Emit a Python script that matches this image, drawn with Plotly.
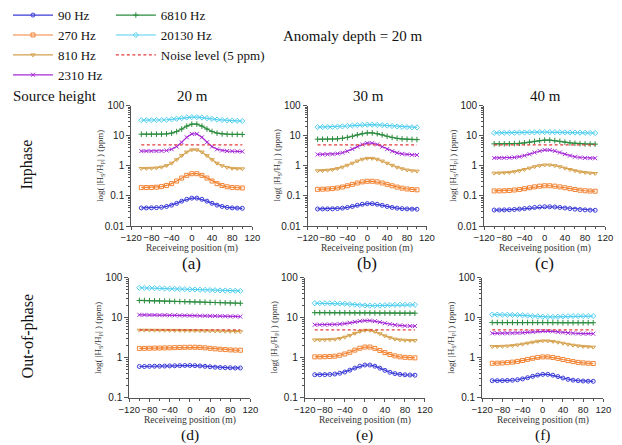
import plotly.graph_objects as go

W, H = 622, 445

# ---------------- data ----------------
positions = [-100, -90, -80, -70, -60, -50, -40, -30, -20, -10, 0, 10, 20, 30, 40, 50, 60, 70, 80, 90, 100]
freq_labels = ["90 Hz", "270 Hz", "810 Hz", "2310 Hz", "6810 Hz", "20130 Hz"]
noise_level = 5.0
panel_letters = ["(a)", "(b)", "(c)", "(d)", "(e)", "(f)"]
source_heights = ["20 m", "30 m", "40 m"]
ytick_top = [0.01, 0.1, 1, 10, 100]
ytick_top_text = ["0.01", "0.1", "1", "10", "100"]
ytick_bot = [0.1, 1, 10, 100]
ytick_bot_text = ["0.1", "1", "10", "100"]
xtick_vals = [-120, -80, -40, 0, 40, 80, 120]

# Inphase, source height 20 m  (a)
inph20_90 = [0.040, 0.040, 0.0404, 0.0409, 0.0422, 0.0449, 0.0496, 0.057, 0.0672, 0.0776, 0.0849, 0.0849, 0.0776, 0.0672, 0.057, 0.0496, 0.0449, 0.0418, 0.0402, 0.0395, 0.039]
inph20_270 = [0.190, 0.191, 0.192, 0.196, 0.205, 0.224, 0.257, 0.314, 0.395, 0.485, 0.550, 0.550, 0.485, 0.395, 0.314, 0.257, 0.222, 0.202, 0.192, 0.188, 0.185]
inph20_810 = [0.821, 0.825, 0.833, 0.856, 0.909, 1.02, 1.23, 1.61, 2.19, 2.89, 3.42, 3.42, 2.89, 2.19, 1.61, 1.23, 1.01, 0.89, 0.83, 0.81, 0.80]
inph20_2310 = [3.10, 3.10, 3.10, 3.11, 3.14, 3.25, 3.57, 4.39, 6.10, 8.90, 11.56, 11.56, 8.90, 6.10, 4.39, 3.57, 3.25, 3.12, 3.07, 3.03, 3.00]
inph20_6810 = [11.3, 11.3, 11.3, 11.32, 11.38, 11.62, 12.28, 13.87, 16.80, 20.98, 24.45, 24.45, 20.98, 16.80, 13.87, 12.28, 11.55, 11.3, 11.2, 11.15, 11.1]
inph20_20130 = [33.0, 33.0, 33.1, 33.2, 33.6, 34.2, 35.3, 36.9, 38.9, 40.7, 41.8, 41.8, 40.5, 38.5, 36.4, 34.7, 33.5, 32.6, 32.0, 31.5, 31.0]

# Inphase, source height 30 m  (b)
inph30_90 = [0.0370, 0.0371, 0.0372, 0.0375, 0.0381, 0.0394, 0.0416, 0.0449, 0.0490, 0.0531, 0.0556, 0.0556, 0.0531, 0.0490, 0.0449, 0.0416, 0.0394, 0.0380, 0.0372, 0.0366, 0.0363]
inph30_270 = [0.166, 0.168, 0.171, 0.176, 0.185, 0.199, 0.218, 0.243, 0.270, 0.294, 0.308, 0.308, 0.294, 0.270, 0.243, 0.218, 0.197, 0.182, 0.171, 0.164, 0.160]
inph30_810 = [0.688, 0.698, 0.718, 0.753, 0.815, 0.909, 1.05, 1.23, 1.45, 1.66, 1.78, 1.78, 1.66, 1.45, 1.23, 1.05, 0.90, 0.80, 0.73, 0.69, 0.67]
inph30_2310 = [2.40, 2.41, 2.42, 2.46, 2.56, 2.74, 3.07, 3.62, 4.36, 5.16, 5.72, 5.72, 5.16, 4.36, 3.62, 3.07, 2.72, 2.52, 2.40, 2.33, 2.30]
inph30_6810 = [7.70, 7.72, 7.75, 7.82, 7.97, 8.29, 8.84, 9.68, 10.75, 11.81, 12.50, 12.50, 11.81, 10.75, 9.68, 8.84, 8.25, 7.88, 7.68, 7.57, 7.50]
inph30_20130 = [19.5, 19.6, 19.7, 19.9, 20.2, 20.6, 21.2, 21.9, 22.6, 23.1, 23.5, 23.5, 23.1, 22.6, 21.9, 21.2, 20.5, 19.9, 19.5, 19.2, 19.0]

# Inphase, source height 40 m  (c)
inph40_90 = [0.0341, 0.0342, 0.0345, 0.0349, 0.0357, 0.0367, 0.0381, 0.0398, 0.0415, 0.0430, 0.0439, 0.0439, 0.0430, 0.0415, 0.0398, 0.0381, 0.0366, 0.0354, 0.0345, 0.0339, 0.0335]
inph40_270 = [0.147, 0.148, 0.149, 0.152, 0.158, 0.165, 0.175, 0.188, 0.201, 0.212, 0.219, 0.219, 0.212, 0.201, 0.188, 0.175, 0.164, 0.155, 0.149, 0.146, 0.144]
inph40_810 = [0.575, 0.580, 0.591, 0.610, 0.642, 0.690, 0.758, 0.844, 0.939, 1.02, 1.07, 1.07, 1.02, 0.939, 0.844, 0.758, 0.688, 0.636, 0.601, 0.578, 0.560]
inph40_2310 = [1.84, 1.85, 1.85, 1.87, 1.92, 2.02, 2.19, 2.45, 2.79, 3.14, 3.37, 3.37, 3.14, 2.79, 2.45, 2.19, 2.01, 1.90, 1.84, 1.81, 1.80]
inph40_6810 = [5.40, 5.41, 5.42, 5.45, 5.51, 5.64, 5.85, 6.17, 6.56, 6.93, 7.17, 7.17, 6.93, 6.56, 6.17, 5.85, 5.62, 5.47, 5.38, 5.33, 5.30]
inph40_20130 = [12.5, 12.5, 12.6, 12.6, 12.7, 12.8, 12.9, 13.0, 13.1, 13.2, 13.3, 13.3, 13.2, 13.1, 13.0, 12.9, 12.8, 12.7, 12.6, 12.5, 12.4]

# Out-of-phase, source height 20 m  (d)
quad20_90 = [0.61, 0.61, 0.615, 0.62, 0.62, 0.625, 0.63, 0.635, 0.64, 0.645, 0.645, 0.64, 0.63, 0.615, 0.60, 0.585, 0.575, 0.57, 0.565, 0.56, 0.56]
quad20_270 = [1.72, 1.73, 1.74, 1.75, 1.76, 1.77, 1.78, 1.80, 1.82, 1.83, 1.84, 1.84, 1.82, 1.78, 1.73, 1.68, 1.64, 1.61, 1.58, 1.56, 1.55]
quad20_810 = [4.90, 4.90, 4.89, 4.88, 4.87, 4.86, 4.85, 4.84, 4.83, 4.82, 4.80, 4.78, 4.76, 4.73, 4.70, 4.67, 4.64, 4.60, 4.57, 4.53, 4.50]
quad20_2310 = [11.8, 11.8, 11.7, 11.7, 11.6, 11.6, 11.5, 11.5, 11.4, 11.4, 11.3, 11.3, 11.2, 11.2, 11.1, 11.1, 11.0, 10.9, 10.8, 10.8, 10.7]
quad20_6810 = [27.0, 26.8, 26.6, 26.4, 26.2, 26.0, 25.8, 25.6, 25.4, 25.2, 25.0, 24.8, 24.6, 24.4, 24.2, 24.0, 23.8, 23.6, 23.4, 23.2, 23.0]
quad20_20130 = [56.0, 55.5, 55.0, 54.5, 54.0, 53.5, 53.0, 52.5, 52.0, 51.5, 51.0, 50.5, 50.0, 49.5, 49.0, 48.5, 48.0, 47.8, 47.5, 47.2, 47.0]

# Out-of-phase, source height 30 m  (e)
quad30_90 = [0.380, 0.381, 0.382, 0.386, 0.396, 0.414, 0.445, 0.494, 0.557, 0.621, 0.663, 0.663, 0.620, 0.553, 0.488, 0.437, 0.405, 0.387, 0.378, 0.374, 0.370]
quad30_270 = [1.06, 1.06, 1.07, 1.08, 1.10, 1.16, 1.25, 1.38, 1.56, 1.74, 1.86, 1.86, 1.72, 1.53, 1.35, 1.21, 1.12, 1.06, 1.03, 1.01, 1.00]
quad30_810 = [2.80, 2.81, 2.82, 2.85, 2.91, 3.05, 3.28, 3.63, 4.09, 4.55, 4.86, 4.86, 4.50, 4.00, 3.53, 3.17, 2.94, 2.81, 2.75, 2.72, 2.70]
quad30_2310 = [6.70, 6.71, 6.72, 6.75, 6.81, 6.95, 7.16, 7.48, 7.87, 8.24, 8.47, 8.47, 8.20, 7.75, 7.30, 6.90, 6.60, 6.42, 6.32, 6.26, 6.20]
quad30_6810 = [13.4, 13.4, 13.4, 13.35, 13.3, 13.3, 13.3, 13.25, 13.2, 13.2, 13.2, 13.2, 13.15, 13.1, 13.1, 13.1, 13.05, 13.0, 13.0, 13.0, 13.0]
quad30_20130 = [23.0, 23.0, 23.0, 22.9, 22.8, 22.6, 22.3, 21.8, 21.2, 20.6, 20.2, 20.0, 20.0, 20.2, 20.5, 20.8, 21.0, 21.1, 21.1, 21.0, 21.0]

# Out-of-phase, source height 40 m  (f)
quad40_90 = [0.270, 0.270, 0.271, 0.273, 0.277, 0.285, 0.299, 0.320, 0.346, 0.372, 0.388, 0.388, 0.370, 0.342, 0.314, 0.292, 0.278, 0.270, 0.265, 0.262, 0.260]
quad40_270 = [0.733, 0.737, 0.745, 0.759, 0.783, 0.816, 0.862, 0.918, 0.976, 1.026, 1.056, 1.056, 1.022, 0.970, 0.910, 0.853, 0.806, 0.772, 0.749, 0.734, 0.722]
quad40_810 = [1.91, 1.92, 1.94, 1.97, 2.02, 2.10, 2.20, 2.33, 2.46, 2.58, 2.64, 2.64, 2.57, 2.45, 2.31, 2.18, 2.07, 1.99, 1.93, 1.89, 1.85]
quad40_2310 = [4.10, 4.10, 4.10, 4.11, 4.13, 4.17, 4.24, 4.34, 4.46, 4.58, 4.66, 4.66, 4.57, 4.44, 4.30, 4.18, 4.10, 4.05, 4.02, 4.01, 4.00]
quad40_6810 = [7.6, 7.6, 7.6, 7.6, 7.6, 7.6, 7.6, 7.6, 7.6, 7.6, 7.6, 7.6, 7.55, 7.55, 7.5, 7.5, 7.5, 7.5, 7.5, 7.5, 7.5]
quad40_20130 = [12.0, 12.0, 11.9, 11.9, 11.8, 11.7, 11.5, 11.3, 11.0, 10.8, 10.6, 10.5, 10.5, 10.6, 10.8, 10.9, 11.0, 11.0, 11.0, 11.0, 11.0]

panels = [
    [inph20_90, inph20_270, inph20_810, inph20_2310, inph20_6810, inph20_20130],
    [inph30_90, inph30_270, inph30_810, inph30_2310, inph30_6810, inph30_20130],
    [inph40_90, inph40_270, inph40_810, inph40_2310, inph40_6810, inph40_20130],
    [quad20_90, quad20_270, quad20_810, quad20_2310, quad20_6810, quad20_20130],
    [quad30_90, quad30_270, quad30_810, quad30_2310, quad30_6810, quad30_20130],
    [quad40_90, quad40_270, quad40_810, quad40_2310, quad40_6810, quad40_20130],
]

# ---------------- style ----------------
colors = ["#3b3bd8", "#f28434", "#d6a24e", "#a62bd6", "#2b8c3e", "#52cff0"]
symbols = ["circle-open", "square-open", "triangle-down-open", "x-thin-open", "cross-thin-open", "diamond-open"]
noise_color = "#e23a3a"
SERIF = "Liberation Serif"
SANS = "Liberation Sans"
AX = "#555555"

# pixel boxes of each plot area: (left, right, top, bottom)
boxes = [
    (124, 249, 95, 221), (306, 429, 95, 221), (488, 613, 95, 221),
    (122, 247, 275, 401), (303, 427, 275, 401), (486, 611, 275, 401),
]

def fx(p):
    return p / W

def fy(p):
    return 1 - p / H

def note(text, xp, yp, size, color="#111", angle=0, xanchor="center", family=SERIF):
    return dict(text=text, x=fx(xp), y=fy(yp), xref="paper", yref="paper",
                xanchor=xanchor, yanchor="middle", showarrow=False, textangle=angle,
                font=dict(family=family, size=size, color=color))

fig = go.Figure()
layout = {}
annotations = []

for k, series in enumerate(panels):
    sfx = "" if k == 0 else str(k + 1)
    xa, ya = "x" + sfx, "y" + sfx
    for i, vals in enumerate(series):
        lg = "legend" if i < 4 else "legend2"
        fig.add_trace(go.Scatter(
            x=positions, y=vals, mode="lines+markers", name=freq_labels[i],
            xaxis=xa, yaxis=ya, legend=lg, showlegend=(k == 0), legendrank=i,
            line=dict(color=colors[i], width=1.2),
            marker=dict(symbol=symbols[i], size=4, color=colors[i],
                        line=dict(color=colors[i], width=1.0)),
        ))
    fig.add_trace(go.Scatter(
        x=positions, y=[noise_level] * len(positions), mode="lines",
        name="Noise level (5 ppm)", xaxis=xa, yaxis=ya, legend="legend2",
        showlegend=(k == 0), legendrank=10,
        line=dict(color=noise_color, width=1.3, dash="3px,2.5px"),
    ))

    l, r, t, b = boxes[k]
    top = k < 3
    layout["xaxis" + sfx] = dict(
        domain=[fx(l), fx(r)], anchor=ya, range=[-120, 120],
        tickvals=xtick_vals, tickangle=0, ticks="outside", ticklen=3, tickwidth=1, tickcolor=AX,
        showline=True, linecolor=AX, linewidth=1, showgrid=False, zeroline=False,
        tickfont=dict(family=SANS, size=9.5, color="#222"),
        minor=dict(tickvals=[-100, -60, -20, 20, 60, 100], ticks="outside", ticklen=2, tickcolor=AX),
    )
    if top:
        yr = [-2, 2]
        tv, tt = ytick_top, ytick_top_text
        mv = [m * d for d in [0.01, 0.1, 1, 10] for m in range(2, 10)]
    else:
        yr = [-1, 2]
        tv, tt = ytick_bot, ytick_bot_text
        mv = [m * d for d in [0.1, 1, 10] for m in range(2, 10)]
    layout["yaxis" + sfx] = dict(
        domain=[fy(b), fy(t)], anchor=xa, type="log", range=yr,
        tickvals=tv, ticktext=tt, ticks="outside", ticklen=4, tickwidth=1, tickcolor=AX,
        showline=True, linecolor=AX, linewidth=1, showgrid=False, zeroline=False,
        tickfont=dict(family=SANS, size=10, color="#222"),
        minor=dict(tickvals=mv, ticks="outside", ticklen=2, tickcolor=AX),
    )
    cx = (l + r) / 2
    annotations.append(note("Receiveing position (m)", cx, b + 23.5, 9.5, "#333"))
    annotations.append(note("log( |H<sub>S</sub>/H<sub>P</sub>| ) (ppm)", l - 31, (t + b) / 2, 9,
                            "#333", angle=-90))
    annotations.append(note(panel_letters[k], cx, b + 39 if top else b + 38.5, 17 if top else 15.5))

# header texts
annotations.append(note("Anomaly depth = 20 m", 353, 22, 15))
annotations.append(note("Source height", 0, 85, 15, xanchor="left"))
for j, sh in enumerate(source_heights):
    l, r, t, b = boxes[j]
    annotations.append(note(sh, (l + r) / 2 + 1, 85, 15))
annotations.append(note("Inphase", 17, 156, 16, angle=-90))
annotations.append(note("Out-of-phase", 17, 336, 16, angle=-90))

fig.update_layout(
    width=W, height=H, margin=dict(l=0, r=0, t=0, b=0),
    paper_bgcolor="white", plot_bgcolor="white",
    annotations=annotations,
    legend=dict(x=-0.005, y=1.035, xanchor="left", yanchor="top", bgcolor="rgba(0,0,0,0)",
                font=dict(family=SERIF, size=13, color="#111"), itemwidth=40,
                tracegroupgap=0),
    legend2=dict(x=fx(103), y=1.035, xanchor="left", yanchor="top", bgcolor="rgba(0,0,0,0)",
                 font=dict(family=SERIF, size=13, color="#111"), itemwidth=40,
                 tracegroupgap=0),
    **layout,
)

fig.write_html("out.html")
